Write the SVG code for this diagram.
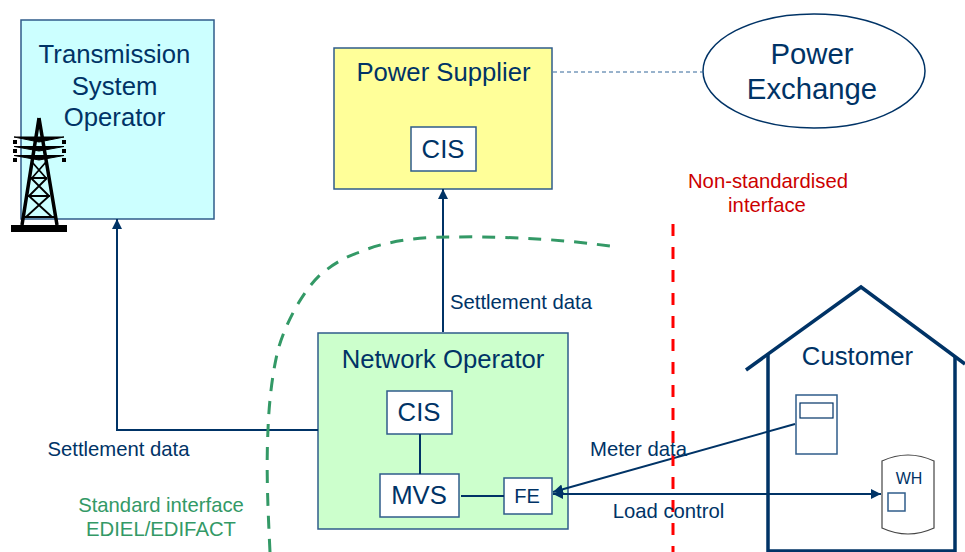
<svg xmlns="http://www.w3.org/2000/svg" width="965" height="552" viewBox="0 0 965 552">
<defs>
<marker id="arr" viewBox="0 0 10 10" refX="10" refY="5" markerWidth="10" markerHeight="10" markerUnits="userSpaceOnUse" orient="auto-start-reverse"><path d="M0 0L10 5L0 10z" fill="#003366"/></marker>
</defs>
<style>
text{font-family:"Liberation Sans",Arial,sans-serif;fill:#003366;text-anchor:middle}
.b{fill:#fff;stroke:#2f5c8a;stroke-width:1.5}
.n{stroke:#2f5c8a;stroke-width:1.5}
.c{fill:none;stroke:#003366;stroke-width:2}
.t{fill:none;stroke:#000;stroke-width:1.800}
.s{font-size:20.300px}
.l{font-size:25.700px}
</style>
<g id="tso">
<rect class="n" x="21" y="20" width="193" height="199" fill="#ccffff"/>
<text class="l" x="114.500" y="63">Transmission</text>
<text class="l" x="114.500" y="95">System</text>
<text class="l" x="114.500" y="126">Operator</text>
<g id="tower">
<path d="M39 118L22 225M39 118L57 225" fill="none" stroke="#000" stroke-width="3.500"/>
<path d="M14 137L64 137L39 142zM14 146.500L64 146.500L39 151zM14 155.500L64 155.500L39 160z" fill="#000" stroke="#000" stroke-width="1"/>
<path class="t" d="M32 162L46 178M46 162L32 178M31 178H47M31 178L49 196M47 178L29 196M28 196H50M29 196L52 217M49 196L26 217M25 217H54"/>
<rect x="11" y="225" width="56" height="7" fill="#000"/>
<path d="M13 140h4v4h-4zM62 140h4v4h-4zM13 149h4v4h-4zM62 149h4v4h-4zM13 158h4v4h-4zM62 158h4v4h-4z" fill="#000"/>
</g>
</g>
<g id="power-supplier">
<rect class="n" x="334" y="48" width="218" height="141" fill="#ffff99"/>
<text class="l" x="443.500" y="81">Power Supplier</text>
<g id="cis-supplier"><rect class="b" x="411" y="127" width="65" height="44"/><text class="l" x="443" y="158">CIS</text></g>
</g>
<g id="power-exchange">
<ellipse cx="814" cy="71" rx="111" ry="57" fill="#fff" stroke="#003366" stroke-width="1.500"/>
<text x="812" y="64" font-size="29.300">Power</text>
<text x="812" y="99" font-size="29.300">Exchange</text>
</g>
<g id="network-operator">
<rect class="n" x="318" y="333" width="250" height="196" fill="#ccffcc"/>
<text class="l" x="443" y="368">Network Operator</text>
<g id="cis-no"><rect class="b" x="387" y="391" width="65" height="43"/><text class="l" x="419" y="421">CIS</text></g>
<g id="mvs"><rect class="b" x="380" y="474" width="79" height="43"/><text class="l" x="419" y="504">MVS</text></g>
<g id="fe"><rect class="b" x="504" y="478" width="48" height="36"/><text x="527" y="503" font-size="20">FE</text></g>
</g>
<g id="customer">
<path d="M746 370L861 287L965 364" fill="none" stroke="#003366" stroke-width="3.500"/>
<path d="M768 354V551H955V356" fill="none" stroke="#003366" stroke-width="3.500"/>
<text x="857.500" y="365" font-size="25.700">Customer</text>
<g id="meter"><rect class="b" x="796" y="395" width="41" height="59"/><rect x="800" y="403" width="33" height="15" fill="#fff" stroke="#003366" stroke-width="1.200"/></g>
<g id="wh"><path d="M882 461Q908 449 934 461V528Q908 540 882 528z" fill="#fff" stroke="#444" stroke-width="1.200"/><text x="909" y="484" font-size="16">WH</text><rect class="b" x="888" y="493" width="17" height="18"/></g>
</g>
<g id="connectors">
<path class="c" d="M443 332V189" marker-end="url(#arr)"/>
<path class="c" d="M318 430H117V219" marker-end="url(#arr)"/>
<path class="c" d="M420 434V474M461 496H504"/>
<path class="c" d="M795 424L553 492" marker-end="url(#arr)"/>
<path class="c" d="M553 494H881" marker-start="url(#arr)" marker-end="url(#arr)"/>
<path d="M553 72H704" fill="none" stroke="#336699" stroke-width="1" stroke-dasharray="4 3"/>
<path d="M270 552C268 510 266 470 268 430C269 400 273 370 278 350C284 328 300 294 320 275C333 264 345 257 360 252C385 241 420 237 450 237C510 236 570 240 616 247" fill="none" stroke="#339966" stroke-width="3" stroke-dasharray="13 10"/>
<path d="M673 224V552" fill="none" stroke="#ff0000" stroke-width="3" stroke-dasharray="12 11"/>
</g>
<g id="labels">
<text class="s" x="521" y="309">Settlement data</text>
<text class="s" x="118.500" y="456">Settlement data</text>
<text class="s" x="638.500" y="456">Meter data</text>
<text class="s" x="668.500" y="518">Load control</text>
<text class="s" x="161" y="512" style="fill:#339966">Standard interface</text>
<text class="s" x="161" y="536" style="fill:#339966">EDIEL/EDIFACT</text>
<text class="s" x="768" y="188" style="fill:#cc0000">Non-standardised</text>
<text class="s" x="767" y="212" style="fill:#cc0000">interface</text>
</g>
</svg>
